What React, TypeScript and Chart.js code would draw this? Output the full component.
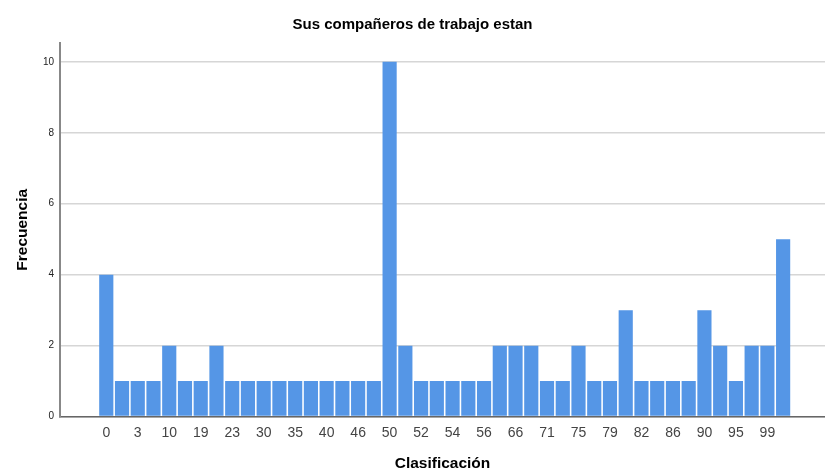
import React, { useEffect, useRef } from "react";
import { Chart, registerables } from "chart.js";

Chart.register(...registerables);

// Category values (only every other one is printed on the axis, as in the reference)
const categories: string[] = [
  "0", "2", "3", "5", "10", "15", "19", "20", "23", "25",
  "30", "33", "35", "38", "40", "45", "46", "48", "50", "51",
  "52", "53", "54", "55", "56", "60", "66", "70", "71", "74",
  "75", "78", "79", "80", "82", "85", "86", "88", "90", "93",
  "95", "98", "99", "100",
];

const frequencies: number[] = [
  4, 1, 1, 1, 2, 1, 1, 2, 1, 1,
  1, 1, 1, 1, 1, 1, 1, 1, 10, 2,
  1, 1, 1, 1, 1, 2, 2, 2, 1, 1,
  2, 1, 1, 3, 1, 1, 1, 1, 3, 2,
  1, 2, 2, 5,
];

const yTickStep = 2;
const titleText = "Sus compañeros de trabajo estan";
const xTitle = "Clasificación";
const yTitle = "Frecuencia";

const FONT = "'Liberation Sans', Arial, sans-serif";

export default function App() {
  const ref = useRef<HTMLCanvasElement | null>(null);

  useEffect(() => {
    if (!ref.current) return;
    const points = frequencies.map((v, i) => ({ x: i, y: v }));
    const chart = new Chart(ref.current, {
      type: "bar",
      data: {
        datasets: [
          {
            label: yTitle,
            data: points as any,
            backgroundColor: "#5596e6",
            borderWidth: 0,
            barPercentage: 0.9,
            categoryPercentage: 1.0,
          },
        ],
      },
      options: {
        responsive: false,
        animation: false,
        layout: { padding: { left: 0, right: 0, top: 0, bottom: 0 } },
        plugins: {
          legend: { display: false },
          tooltip: { enabled: false },
          title: {
            display: true,
            text: titleText,
            color: "#000",
            font: { family: FONT, size: 15, weight: "bold" },
            padding: { top: 16, bottom: 9 },
          },
        },
        scales: {
          x: {
            type: "linear",
            offset: false,
            min: -2.94,
            max: 45.66,
            grid: { display: false, drawTicks: false, offset: false },
            border: { display: true, color: "#666", width: 1.5 },
            ticks: {
              stepSize: 1,
              autoSkip: false,
              includeBounds: false,
              maxRotation: 0,
              padding: 8,
              color: "#444",
              font: { family: FONT, size: 14 },
              callback: (value: any) => {
                const v = Number(value);
                if (Number.isInteger(v) && v >= 0 && v < categories.length && v % 2 === 0) {
                  return categories[v];
                }
                return "";
              },
            },
            title: {
              display: true,
              text: xTitle,
              color: "#000",
              font: { family: FONT, size: 15.5, weight: "bold" },
              padding: { top: 5, bottom: 0 },
            },
          },
          y: {
            min: 0,
            max: 10.53,
            grid: { color: "#d6d6d6", lineWidth: 1.5, drawTicks: false },
            border: { display: true, color: "#888", width: 2 },
            ticks: {
              stepSize: yTickStep,
              includeBounds: false,
              padding: 6,
              color: "#222",
              font: { family: FONT, size: 10 },
            },
            title: {
              display: true,
              text: yTitle,
              color: "#000",
              font: { family: FONT, size: 15.5, weight: "bold" },
              padding: { top: 13.5, bottom: 4 },
            },
            afterFit: (scale: any) => {
              scale.width = 60;
            },
          },
        },
      },
    });
    return () => chart.destroy();
  }, []);

  return (
    <div style={{ position: "fixed", left: 0, top: 0, width: 825, height: 473, background: "#fff" }}>
      <canvas ref={ref} width={825} height={473} />
    </div>
  );
}
